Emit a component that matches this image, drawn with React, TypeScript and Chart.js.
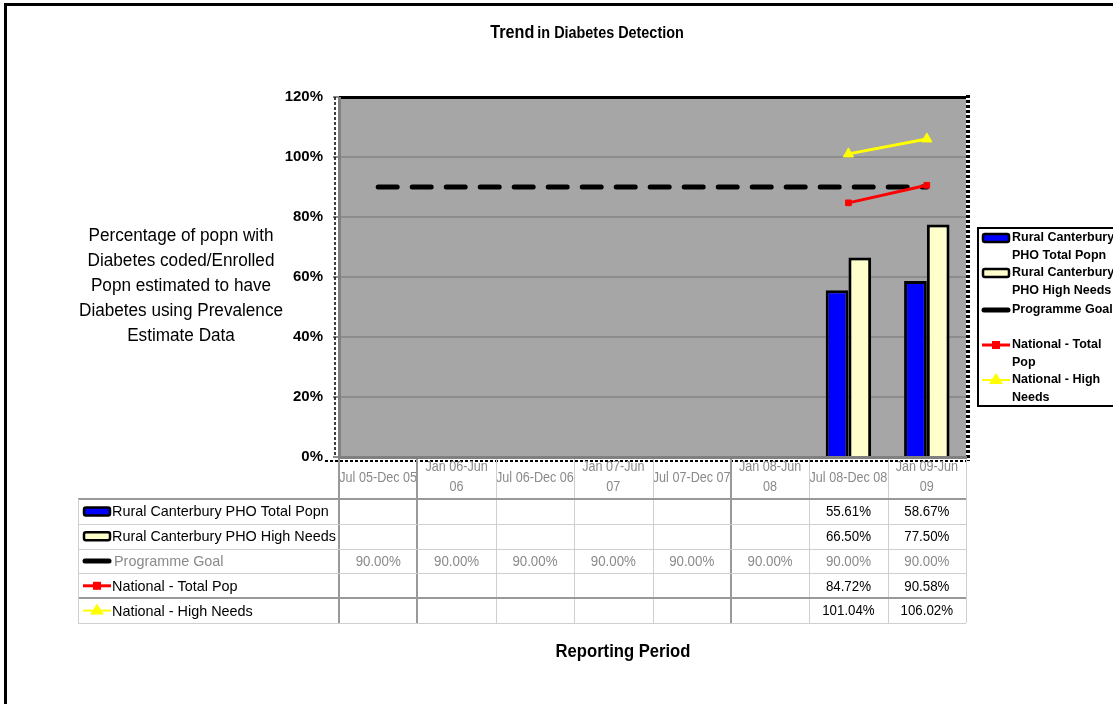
import React, { useEffect, useRef } from 'react';
import { Chart, registerables } from 'chart.js';

Chart.register(...registerables);

const categories = ['Jul 05-Dec 05', 'Jan 06-Jun 06', 'Jul 06-Dec 06', 'Jan 07-Jun 07', 'Jul 07-Dec 07', 'Jan 08-Jun 08', 'Jul 08-Dec 08', 'Jan 09-Jun 09'];
const categoryLines = [['Jul 05-Dec 05'], ['Jan 06-Jun', '06'], ['Jul 06-Dec 06'], ['Jan 07-Jun', '07'], ['Jul 07-Dec 07'], ['Jan 08-Jun', '08'], ['Jul 08-Dec 08'], ['Jan 09-Jun', '09']];
const ruralTotal = [null, null, null, null, null, null, 55.61, 58.67];
const ruralHigh = [null, null, null, null, null, null, 66.5, 77.5];
const programmeGoal = [90, 90, 90, 90, 90, 90, 90, 90];
const nationalTotal = [null, null, null, null, null, null, 84.72, 90.58];
const nationalHigh = [null, null, null, null, null, null, 101.04, 106.02];
const yTicks = [0, 20, 40, 60, 80, 100, 120];

const seriesNames = ['Rural Canterbury PHO Total Popn', 'Rural Canterbury PHO High Needs', 'Programme Goal', 'National - Total Pop', 'National - High Needs'];
const legendLines = [['Rural Canterbury', 'PHO Total Popn'], ['Rural Canterbury', 'PHO High Needs'], ['Programme Goal'], ['National - Total', 'Pop'], ['National - High', 'Needs']];
const titleMain = 'Trend';
const titleRest = 'in Diabetes Detection';
const yTitleLines = ['Percentage of popn with', 'Diabetes coded/Enrolled', 'Popn estimated to have', 'Diabetes using Prevalence', 'Estimate Data'];
const xTitle = 'Reporting Period';

const BLUE = '#0000FF';
const CREAM = '#FFFFCC';
const RED = '#FF0000';
const YELLOW = '#FFFF00';
const PLOT_BG = '#A6A6A6';
const GRID = '#8C8C8C';
const GRAYTXT = '#8A8A8A';
const FONT = '"Liberation Sans", Arial, sans-serif';

function drawSymbol(ctx: CanvasRenderingContext2D, idx: number, x: number, y: number, w: number) {
  ctx.save();
  if (idx === 0 || idx === 1) {
    ctx.fillStyle = idx === 0 ? BLUE : CREAM;
    ctx.strokeStyle = '#000';
    ctx.lineWidth = 2.5;
    const h = 8;
    ctx.beginPath();
    ctx.roundRect(x + 1, y - h / 2, w - 2, h, 2);
    ctx.fill();
    ctx.stroke();
  } else if (idx === 2) {
    ctx.strokeStyle = '#000';
    ctx.lineWidth = 5;
    ctx.lineCap = 'round';
    ctx.beginPath();
    ctx.moveTo(x + 2, y);
    ctx.lineTo(x + w - 2, y);
    ctx.stroke();
  } else if (idx === 3) {
    ctx.strokeStyle = RED;
    ctx.fillStyle = RED;
    ctx.lineWidth = 3;
    ctx.beginPath();
    ctx.moveTo(x, y);
    ctx.lineTo(x + w, y);
    ctx.stroke();
    ctx.fillRect(x + w / 2 - 4, y - 4, 8, 8);
  } else {
    ctx.strokeStyle = YELLOW;
    ctx.fillStyle = YELLOW;
    ctx.lineWidth = 2;
    ctx.beginPath();
    ctx.moveTo(x, y);
    ctx.lineTo(x + w, y);
    ctx.stroke();
    ctx.beginPath();
    ctx.moveTo(x + w / 2, y - 7);
    ctx.lineTo(x + w / 2 + 7, y + 4);
    ctx.lineTo(x + w / 2 - 7, y + 4);
    ctx.closePath();
    ctx.fill();
  }
  ctx.restore();
}

function condensedText(ctx: CanvasRenderingContext2D, text: string, x: number, y: number, sx: number) {
  ctx.save();
  ctx.translate(x, y);
  ctx.scale(sx, 1);
  ctx.fillText(text, 0, 0);
  ctx.restore();
}

const decorPlugin = {
  id: 'decor',
  beforeDatasetsDraw(chart: any) {
    const { ctx, chartArea } = chart;
    ctx.save();
    ctx.fillStyle = PLOT_BG;
    ctx.fillRect(chartArea.left, chartArea.top, chartArea.right - chartArea.left, chartArea.bottom - chartArea.top);
    const yScale = chart.scales.y;
    ctx.strokeStyle = GRID;
    ctx.lineWidth = 2;
    yTicks.forEach((t) => {
      const py = yScale.getPixelForValue(t);
      ctx.beginPath();
      ctx.moveTo(chartArea.left, py);
      ctx.lineTo(chartArea.right, py);
      ctx.stroke();
    });
    ctx.restore();
  },
  afterDraw(chart: any) {
    const { ctx, chartArea } = chart;
    const xScale = chart.scales.x;
    const W = chart.width;
    ctx.save();
    // plot borders
    ctx.fillStyle = '#000';
    ctx.fillRect(chartArea.left, chartArea.top - 1, chartArea.right - chartArea.left, 3);
    ctx.strokeStyle = '#000';
    ctx.lineWidth = 4;
    ctx.setLineDash([3, 2]);
    ctx.beginPath();
    ctx.moveTo(chartArea.right + 2, chartArea.top - 2);
    ctx.lineTo(chartArea.right + 2, chartArea.bottom + 4);
    ctx.stroke();
    ctx.lineWidth = 1.5;
    ctx.beginPath();
    ctx.moveTo(chartArea.left - 4, chartArea.top);
    ctx.lineTo(chartArea.left - 4, chartArea.bottom);
    ctx.stroke();
    ctx.lineWidth = 2;
    ctx.beginPath();
    ctx.moveTo(chartArea.left - 14, chartArea.bottom + 4);
    ctx.lineTo(chartArea.right, chartArea.bottom + 4);
    ctx.stroke();
    ctx.setLineDash([]);
    ctx.fillStyle = '#808080';
    ctx.fillRect(chartArea.left - 1, chartArea.top, 3, chartArea.bottom - chartArea.top);
    ctx.fillRect(chartArea.left - 1, chartArea.bottom - 1, chartArea.right - chartArea.left + 2, 3);

    // title
    ctx.fillStyle = '#000';
    ctx.textBaseline = 'middle';
    ctx.textAlign = 'left';
    const sx = 0.9;
    ctx.font = `bold 18px ${FONT}`;
    const w1 = ctx.measureText(titleMain).width * sx;
    ctx.font = `bold 16px ${FONT}`;
    const w2 = ctx.measureText(titleRest).width * sx;
    const tx = 587 - (w1 + 3 + w2) / 2;
    ctx.font = `bold 18px ${FONT}`;
    condensedText(ctx, titleMain, tx, 33, sx);
    ctx.font = `bold 16px ${FONT}`;
    condensedText(ctx, titleRest, tx + w1 + 3, 34, sx);

    // y title
    ctx.font = `17.5px ${FONT}`;
    ctx.textAlign = 'center';
    yTitleLines.forEach((l, i) => condensedText(ctx, l, 181, 236 + i * 25, 0.98));

    // x title
    ctx.font = `bold 17.5px ${FONT}`;
    condensedText(ctx, xTitle, 623, 652, 0.95);

    // table
    const n = categories.length;
    const cw = (chartArea.right - chartArea.left) / n;
    const tTop = chartArea.bottom;
    const hBottom = 499;
    const rowH = 24.8;
    const tBottom = hBottom + rowH * 5;
    const tLeft = 78;
    ctx.font = `14px ${FONT}`;
    ctx.fillStyle = GRAYTXT;
    categoryLines.forEach((lines, i) => {
      const cx = xScale.getPixelForValue(i);
      if (lines.length === 1) {
        condensedText(ctx, lines[0], cx, 478, 0.9);
      } else {
        condensedText(ctx, lines[0], cx, 467, 0.9);
        condensedText(ctx, lines[1], cx, 487, 0.9);
      }
    });
    const thick = [0, 1, 5];
    for (let i = 0; i <= n; i++) {
      const px = chartArea.left + i * cw;
      ctx.fillStyle = thick.includes(i) ? '#999' : '#CFCFCF';
      const lw = thick.includes(i) ? 2 : 1;
      ctx.fillRect(Math.round(px) - (lw > 1 ? 1 : 0), tTop + 2, lw, tBottom - tTop - 2);
    }
    for (let r = 0; r <= 5; r++) {
      const py = hBottom + r * rowH;
      const isThick = r === 0 || r === 4;
      ctx.fillStyle = isThick ? '#999' : '#CFCFCF';
      ctx.fillRect(tLeft, Math.round(py) - (isThick ? 1 : 0), chartArea.right - tLeft, isThick ? 2 : 1);
    }
    ctx.fillStyle = '#CFCFCF';
    ctx.fillRect(tLeft, hBottom, 1, tBottom - hBottom);

    const rows = [ruralTotal, ruralHigh, programmeGoal, nationalTotal, nationalHigh];
    rows.forEach((vals, r) => {
      const cy = hBottom + r * rowH + rowH / 2;
      drawSymbol(ctx, r, 83, cy, 28);
      ctx.font = `14.4px ${FONT}`;
      ctx.textAlign = 'left';
      ctx.fillStyle = r === 2 ? GRAYTXT : '#000';
      ctx.fillText(seriesNames[r], r === 2 ? 114 : 112, cy + 1);
      ctx.font = `14px ${FONT}`;
      ctx.textAlign = 'center';
      vals.forEach((v, i) => {
        if (v === null) return;
        condensedText(ctx, `${(v as number).toFixed(2)}%`, xScale.getPixelForValue(i), cy + 1, 0.95);
      });
    });

    // legend
    ctx.lineWidth = 2;
    ctx.strokeStyle = '#000';
    ctx.strokeRect(978, 228, W - 978 + 10, 178);
    ctx.font = `bold 12.5px ${FONT}`;
    ctx.textAlign = 'left';
    ctx.fillStyle = '#000';
    const legendY = [238, 273, 310, 345, 380];
    legendLines.forEach((lines, i) => {
      const y = legendY[i];
      drawSymbol(ctx, i, 982, y, 28);
      ctx.fillStyle = '#000';
      lines.forEach((l, j) => ctx.fillText(l, 1012, y + j * 17.5));
    });

    // outer frame
    ctx.fillStyle = '#000';
    ctx.fillRect(4, 3, 3, chart.height);
    ctx.fillRect(4, 3, W, 3);
    ctx.restore();
  },
};

export default function App() {
  const ref = useRef<HTMLCanvasElement>(null);
  useEffect(() => {
    if (!ref.current) return;
    const chart = new Chart(ref.current, {
      type: 'bar',
      data: {
        labels: categories,
        datasets: [
          { type: 'bar', label: seriesNames[0], data: ruralTotal, backgroundColor: BLUE, borderColor: '#000', borderWidth: 3, order: 2, categoryPercentage: 0.58, barPercentage: 1 } as any,
          { type: 'bar', label: seriesNames[1], data: ruralHigh, backgroundColor: CREAM, borderColor: '#000', borderWidth: 3, order: 2, categoryPercentage: 0.58, barPercentage: 1 } as any,
          { type: 'line', label: seriesNames[2], data: programmeGoal, borderColor: '#000', borderWidth: 5, borderDash: [19, 15], borderCapStyle: 'round', pointRadius: 0, order: 1 } as any,
          { type: 'line', label: seriesNames[3], data: nationalTotal, borderColor: RED, backgroundColor: RED, borderWidth: 3, pointStyle: 'rect', pointRadius: 4, pointBorderWidth: 1, order: 0 } as any,
          { type: 'line', label: seriesNames[4], data: nationalHigh, borderColor: YELLOW, backgroundColor: YELLOW, borderWidth: 3, pointStyle: 'triangle', pointRadius: 6, pointBorderWidth: 1, order: 0 } as any,
        ],
      },
      options: {
        animation: false,
        responsive: false,
        maintainAspectRatio: false,
        layout: { padding: { left: 0, right: 147, top: 97, bottom: 207 } },
        plugins: { legend: { display: false }, title: { display: false }, tooltip: { enabled: false } },
        scales: {
          x: {
            grid: { display: false },
            border: { display: false },
            ticks: { display: false },
            afterFit: (s: any) => { s.height = 40; },
          },
          y: {
            min: 0,
            max: 120,
            afterBuildTicks: (s: any) => { s.ticks = yTicks.map((v) => ({ value: v })); },
            ticks: { callback: (v: any) => `${v}%`, font: { family: FONT, size: 15, weight: 'bold' }, color: '#000', padding: 10 },
            grid: { color: GRID, lineWidth: 2, tickLength: 6, drawOnChartArea: false },
            border: { display: false },
            afterFit: (s: any) => { s.width = 339; },
          },
        },
      },
      plugins: [decorPlugin],
    });
    return () => chart.destroy();
  }, []);
  return (
    <div style={{ position: 'fixed', left: 0, top: 0, width: 1113, height: 704, background: '#fff' }}>
      <canvas ref={ref} width={1113} height={704} style={{ width: 1113, height: 704 }} />
    </div>
  );
}
